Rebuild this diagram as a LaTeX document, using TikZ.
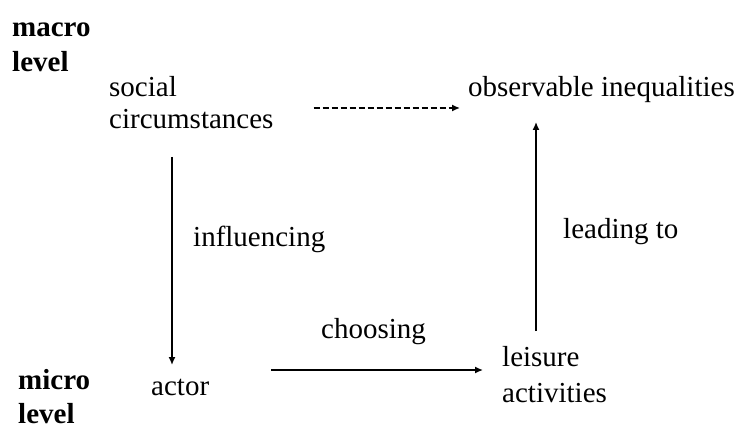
\documentclass[tikz,border=0pt]{standalone}
\usepackage{fontspec}
\setmainfont{Liberation Serif}
\usetikzlibrary{arrows.meta,positioning}

\tikzset{
	txt/.style = {inner sep = 0, anchor = base west, align = left,
		font = \fontsize{29}{34}\selectfont},
	lvl/.style = {txt, font = \fontsize{29}{34}\selectfont\bfseries},
	flow/.style = {-{Latex[length = 8pt, width = 7pt]}, line width = 1.4pt}
}

\begin{document}
\begin{tikzpicture}[x = 1pt, y = -1pt]
\useasboundingbox (0,0) rectangle (737,425);
% levels (base = last line)
\node [lvl, font = \fontsize{29}{35}\selectfont\bfseries] (macro) at (12,72) {macro\\level};
\node [lvl] (micro) at (18,423) {micro\\level};
% boxes
\node [txt, font = \fontsize{29}{32}\selectfont] (social) at (109,129) {social\\circumstances};
\node [txt] (obs) at (468,97) {observable inequalities};
\node [txt] (actor) at (151,395) {actor};
\node [txt, font = \fontsize{29}{36}\selectfont] (leisure) at (502,402) {leisure\\activities};
% labels
\node [txt] (infl) at (193,247) {influencing};
\node [txt] (lead) at (563,239) {leading to};
\node [txt] (choose) at (321,338) {choosing};
% arrows
\draw [flow, dash pattern = on 6pt off 3pt]
	([xshift = 40pt, yshift = -11pt]social.east |- obs.base)
	-- ([xshift = -8pt, yshift = -11pt]obs.base west);
\draw [flow] ([xshift = 21pt, yshift = -28pt]actor.base west |- social.base)
	-- ([xshift = 21pt, yshift = 30pt]actor.base west);
\draw [flow] ([xshift = 62pt, yshift = 25pt]actor.base east)
	-- ([xshift = -19pt, yshift = 25pt]actor.base -| leisure.west);
\draw [flow] ([xshift = 34pt, yshift = 71pt]leisure.base west)
	-- ([xshift = 34pt, yshift = -25pt]leisure.base west |- obs.base);
\end{tikzpicture}
\end{document}
